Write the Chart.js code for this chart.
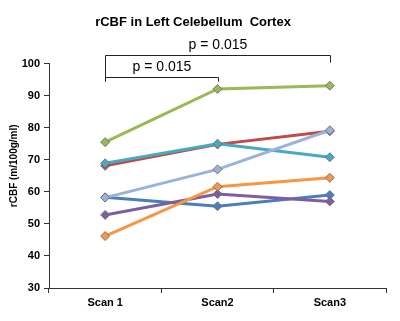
<!DOCTYPE html>
<html>
<head>
<meta charset="utf-8">
<script src="https://cdn.jsdelivr.net/npm/chart.js@4"></script>
<style>
  html, body { margin: 0; padding: 0; background: #fff; }
</style>
</head>
<body>
<canvas id="rcbf-chart" width="400" height="321"></canvas>
<script>
// data
var scans = ['Scan 1', 'Scan2', 'Scan3'];
var subj1 = [58.3, 55.5, 59.0];
var subj2 = [68.1, 74.8, 78.9];
var subj3 = [75.5, 92.1, 93.1];
var subj4 = [52.8, 59.3, 57.0];
var subj5 = [68.9, 75.0, 70.8];
var subj6 = [46.2, 61.6, 64.4];
var subj7 = [58.2, 67.0, 79.2];
var yTicks = [30, 40, 50, 60, 70, 80, 90, 100];

// significance brackets (category index pairs, p-values)
var bracketFrom = [0, 0];
var bracketTo = [1, 2];
var bracketLevel = [95.9, 102.8];
var bracketRightEnd = [94.4, 100.3];
var bracketLeftEnd = [94.4, 94.4];
var pLabels = ['p = 0.015', 'p = 0.015'];

var colors = ['#4A7EBB', '#BE4B48', '#98B954', '#7D5FA0', '#46AAC5', '#F79646', '#9AB3DA'];
var series = [subj1, subj2, subj3, subj4, subj5, subj6, subj7];

function mkSet(vals, i) {
  return {
    label: 'S' + (i + 1),
    data: vals,
    order: series.length - i, // later series on top, like the original
    borderColor: colors[i],
    backgroundColor: colors[i],
    borderWidth: 3,
    pointStyle: 'rectRot',
    pointRadius: 4.5,
    pointBorderColor: 'rgba(110,110,110,0.9)',
    pointBorderWidth: 1,
    tension: 0
  };
}

var extras = {
  id: 'extras',
  afterDraw: function(chart) {
    var ctx = chart.ctx;
    var x = chart.scales.x, y = chart.scales.y;
    ctx.save();
    ctx.strokeStyle = '#222';
    ctx.lineWidth = 1;
    ctx.fillStyle = '#000';
    ctx.font = '14px Arial, "Liberation Sans", sans-serif';
    ctx.textAlign = 'center';
    ctx.textBaseline = 'middle';
    for (var i = 0; i < bracketFrom.length; i++) {
      var x0 = Math.round(x.getPixelForValue(bracketFrom[i])) + 0.5;
      var x1 = Math.round(x.getPixelForValue(bracketTo[i])) + 0.5;
      var yl = Math.round(y.getPixelForValue(bracketLevel[i])) + 0.5;
      ctx.beginPath();
      ctx.moveTo(x0, y.getPixelForValue(bracketLeftEnd[i]));
      ctx.lineTo(x0, yl);
      ctx.lineTo(x1, yl);
      ctx.lineTo(x1, y.getPixelForValue(bracketRightEnd[i]));
      ctx.stroke();
      ctx.fillText(pLabels[i], (x0 + x1) / 2, yl - 10);
    }
    // y axis title
    ctx.translate(14, (chart.chartArea.top + chart.chartArea.bottom) / 2 - 10);
    ctx.rotate(-Math.PI / 2);
    ctx.font = 'bold 10px Arial, "Liberation Sans", sans-serif';
    ctx.fillText('rCBF (m/100g/ml)', 0, 0);
    ctx.restore();
  }
};

var chart = new Chart(document.getElementById('rcbf-chart'), {
  type: 'line',
  data: {
    labels: scans,
    datasets: series.map(mkSet)
  },
  plugins: [extras],
  options: {
    responsive: false,
    animation: false,
    layout: { padding: { right: 14 } },
    plugins: {
      legend: { display: false },
      tooltip: { enabled: false },
      title: {
        display: true,
        text: 'rCBF in Left Celebellum  Cortex',
        color: '#000',
        font: { family: 'Arial, "Liberation Sans", sans-serif', size: 13, weight: 'bold' },
        padding: { top: 15, bottom: 33 }
      }
    },
    scales: {
      x: {
        offset: true,
        afterFit: function(s) { s.height = 33; },
        grid: { offset: true, drawOnChartArea: false, tickLength: 5, color: '#333' },
        border: { color: '#333', width: 1 },
        ticks: {
          color: '#000', padding: 3,
          font: { family: 'Arial, "Liberation Sans", sans-serif', size: 11, weight: 'bold' }
        }
      },
      y: {
        min: 30,
        max: 100,
        afterFit: function(s) { s.width = 49; },
        afterBuildTicks: function(s) { s.ticks = yTicks.map(function(v) { return { value: v }; }); },
        grid: { drawOnChartArea: false, tickLength: 5, color: '#333' },
        border: { color: '#333', width: 1 },
        ticks: {
          color: '#000', padding: 4,
          font: { family: 'Arial, "Liberation Sans", sans-serif', size: 11, weight: 'bold' }
        }
      }
    }
  }
});
</script>
</body>
</html>
